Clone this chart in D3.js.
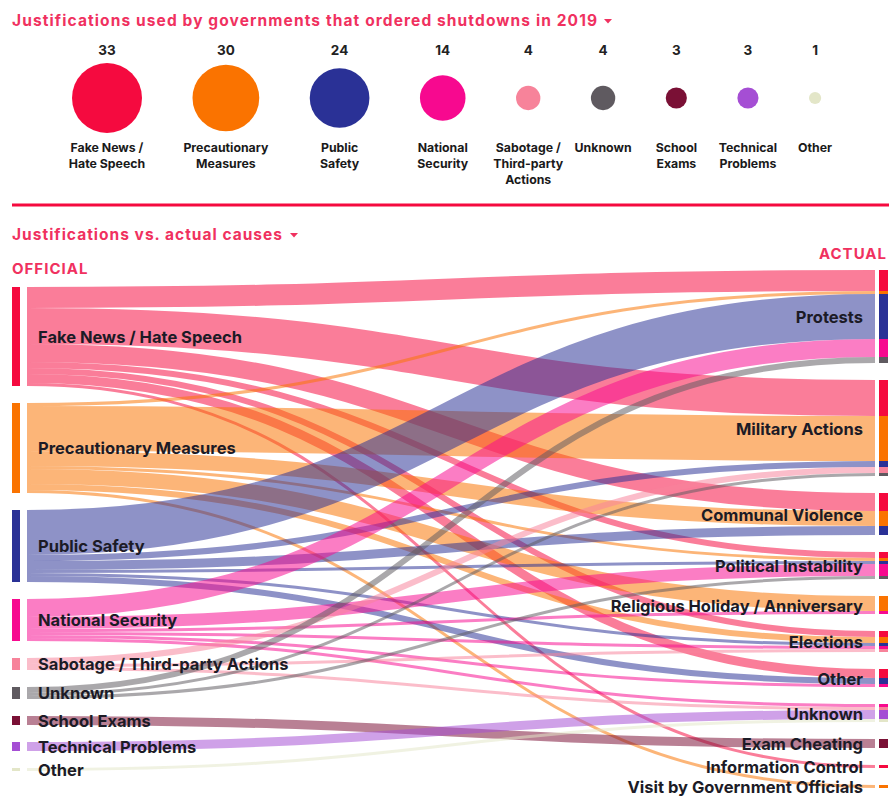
<!DOCTYPE html>
<html>
<head>
<meta charset="utf-8">
<script src="https://cdn.jsdelivr.net/npm/d3@7"></script>
<style>
    body { margin: 0; background: #fff; }
    svg text { font-family: Inter, "Noto Sans", sans-serif; font-weight: 700; }
</style>
</head>
<body>
<div id="chart"></div>
<script>

// official justifications (left column + bubbles)
const officialNames = ["Fake News / Hate Speech", "Precautionary Measures", "Public Safety", "National Security",
    "Sabotage / Third-party Actions", "Unknown", "School Exams", "Technical Problems", "Other"];
const officialCounts = [33, 30, 24, 14, 4, 4, 3, 3, 1];
const bubbleLabels = [["Fake News /", "Hate Speech"], ["Precautionary", "Measures"], ["Public", "Safety"],
    ["National", "Security"], ["Sabotage /", "Third-party", "Actions"], ["Unknown"], ["School", "Exams"],
    ["Technical", "Problems"], ["Other"]];

// actual causes (right column)
const actualNames = ["Protests", "Military Actions", "Communal Violence", "Political Instability",
    "Religious Holiday / Anniversary", "Elections", "Other", "Unknown", "Exam Cheating",
    "Information Control", "Visit by Government Officials"];

// rows = official, columns = actual
const flowMatrix = [
    [7, 12, 6, 2, 0, 2, 3, 0, 0, 1, 0],
    [1, 15, 5, 1, 5, 2, 0, 0, 0, 0, 1],
    [15, 2, 3, 1, 0, 1, 2, 0, 0, 0, 0],
    [6, 0, 0, 4, 1, 1, 1, 1, 0, 0, 0],
    [0, 2, 0, 0, 0, 1, 0, 1, 0, 0, 0],
    [2, 1, 0, 1, 0, 0, 0, 0, 0, 0, 0],
    [0, 0, 0, 0, 0, 0, 0, 0, 3, 0, 0],
    [0, 0, 0, 0, 0, 0, 0, 3, 0, 0, 0],
    [0, 0, 0, 0, 0, 0, 0, 1, 0, 0, 0]
];

const officialColors = ["#f50a3f", "#fa7300", "#2a3196", "#f7098f", "#f7839a", "#5f5a60", "#7a1035", "#a54ed4", "#e3e6c8"];
const accent = "#f0315f";

class ShutdownVis
{
    constructor(parentElement)
    {
        this.parentElement = parentElement;
        this.initVis();
    }

    initVis()
    {
        let vis = this;
        vis.width = 889;
        vis.height = 796;

        vis.svg = d3.select(vis.parentElement)
            .append("svg")
            .attr("width", vis.width)
            .attr("height", vis.height);

        vis.drawBubbles();
        vis.wrangleData();
        vis.drawSankey();
    }

    drawBubbles()
    {
        let vis = this;

        vis.svg.append("text")
            .attr("x", 12).attr("y", 26)
            .attr("font-size", 15.5)
            .attr("fill", accent)
            .attr("textLength", 585)
            .attr("lengthAdjust", "spacing")
            .text("Justifications used by governments that ordered shutdowns in 2019");
        vis.caret(608, 21);

        vis.rScale = d3.scaleSqrt()
            .domain([0, d3.max(officialCounts)])
            .range([0, 35]);

        // circles sit 50.5px apart edge to edge
        let xs = [];
        officialCounts.forEach((c, i) => {
            if (i === 0) xs.push(107);
            else xs.push(xs[i - 1] + vis.rScale(officialCounts[i - 1]) + vis.rScale(c) + 50.5);
        });

        let g = vis.svg.selectAll(".bubble")
            .data(officialCounts)
            .enter()
            .append("g")
            .attr("class", "bubble")
            .attr("transform", (d, i) => `translate(${xs[i]},98)`);

        g.append("circle")
            .attr("r", d => vis.rScale(d))
            .attr("fill", (d, i) => officialColors[i]);

        g.append("text")
            .attr("y", -43)
            .attr("text-anchor", "middle")
            .attr("font-size", 13.5)
            .attr("fill", "#222")
            .text(d => d);

        g.each(function (d, i) {
            d3.select(this).selectAll(".blabel")
                .data(bubbleLabels[i])
                .enter()
                .append("text")
                .attr("class", "blabel")
                .attr("y", (t, j) => 53.5 + j * 16)
                .attr("text-anchor", "middle")
                .attr("font-size", 12.3)
                .attr("fill", "#1a1a1a")
                .text(t => t);
        });

        vis.svg.append("line")
            .attr("x1", 12).attr("x2", vis.width)
            .attr("y1", 205).attr("y2", 205)
            .attr("stroke", "#f50a3f")
            .attr("stroke-width", 3);
    }

    caret(x, y)
    {
        this.svg.append("path")
            .attr("d", `M${x - 4},${y - 2}L${x + 4},${y - 2}L${x},${y + 2.5}Z`)
            .attr("fill", accent);
    }

    wrangleData()
    {
        let vis = this;
        vis.top = 270;
        vis.bottom = 788;
        vis.pad = 17;

        vis.total = d3.sum(officialCounts);
        vis.actualTotals = actualNames.map((n, j) => d3.sum(flowMatrix, row => row[j]));

        // px per shutdown, set by the taller (right) column
        let ky = (vis.bottom - vis.top - (actualNames.length - 1) * vis.pad) / vis.total;
        vis.yScale = d3.scaleLinear().domain([0, 1]).range([0, ky]);

        let center = (vis.top + vis.bottom) / 2;
        let stack = (values) => {
            let h = d3.sum(values, v => vis.yScale(v)) + (values.length - 1) * vis.pad;
            let y = center - h / 2;
            return values.map(v => {
                let n = {y0: y, y1: y + vis.yScale(v), value: v};
                y = n.y1 + vis.pad;
                return n;
            });
        };

        vis.leftNodes = stack(officialCounts);
        vis.rightNodes = stack(vis.actualTotals);

        vis.links = [];
        let rightOffset = vis.rightNodes.map(n => n.y0);
        vis.leftNodes.forEach((ln, i) => {
            let sy = ln.y0;
            flowMatrix[i].forEach((v, j) => {
                if (!v) return;
                let w = vis.yScale(v);
                vis.links.push({source: i, target: j, value: v, width: w,
                    sy: sy + w / 2, ty: rightOffset[j] + w / 2, ty0: rightOffset[j]});
                sy += w;
                rightOffset[j] += w;
            });
        });
    }

    drawSankey()
    {
        let vis = this;
        let x0 = 27, x1 = 875;

        vis.svg.append("text")
            .attr("x", 12).attr("y", 240)
            .attr("font-size", 15.5)
            .attr("fill", accent)
            .attr("textLength", 270)
            .attr("lengthAdjust", "spacing")
            .text("Justifications vs. actual causes");
        vis.caret(294, 235);

        vis.svg.append("text")
            .attr("x", 12).attr("y", 274)
            .attr("font-size", 15)
            .attr("fill", accent)
            .attr("letter-spacing", 1)
            .text("OFFICIAL");

        vis.svg.append("text")
            .attr("x", 887).attr("y", 259)
            .attr("text-anchor", "end")
            .attr("font-size", 15)
            .attr("fill", accent)
            .attr("letter-spacing", 1)
            .text("ACTUAL");

        let linkPath = d3.linkHorizontal()
            .source(d => [x0, d.sy])
            .target(d => [x1, d.ty]);

        vis.svg.append("g")
            .selectAll("path")
            .data(vis.links)
            .enter()
            .append("path")
            .attr("d", linkPath)
            .attr("fill", "none")
            .attr("stroke", d => officialColors[d.source])
            .attr("stroke-opacity", 0.53)
            .attr("stroke-width", d => d.width);

        // left bars
        vis.svg.append("g")
            .selectAll("rect")
            .data(vis.leftNodes)
            .enter()
            .append("rect")
            .attr("x", 12).attr("width", 8)
            .attr("y", d => d.y0)
            .attr("height", d => d.y1 - d.y0)
            .attr("fill", (d, i) => officialColors[i]);

        // right bars, split by source
        vis.svg.append("g")
            .selectAll("rect")
            .data(vis.links)
            .enter()
            .append("rect")
            .attr("x", 879).attr("width", 9)
            .attr("y", d => d.ty0)
            .attr("height", d => d.width)
            .attr("fill", d => officialColors[d.source]);

        vis.svg.append("g")
            .selectAll("text")
            .data(vis.leftNodes)
            .enter()
            .append("text")
            .attr("x", 38)
            .attr("y", d => (d.y0 + d.y1) / 2)
            .attr("dy", "0.38em")
            .attr("font-size", 16.5)
            .attr("fill", "#1c1b26")
            .text((d, i) => officialNames[i]);

        vis.svg.append("g")
            .selectAll("text")
            .data(vis.rightNodes)
            .enter()
            .append("text")
            .attr("x", 863)
            .attr("y", d => (d.y0 + d.y1) / 2)
            .attr("dy", "0.4em")
            .attr("text-anchor", "end")
            .attr("font-size", 16.5)
            .attr("fill", "#1c1b26")
            .text((d, i) => actualNames[i]);
    }
}

new ShutdownVis(document.getElementById("chart"));

</script>
</body>
</html>
